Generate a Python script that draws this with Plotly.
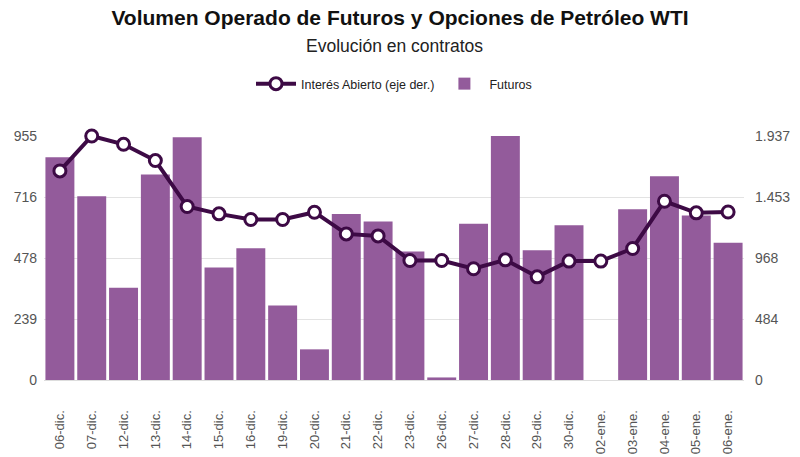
import plotly.graph_objects as go

categorias = ["06-dic.", "07-dic.", "12-dic.", "13-dic.", "14-dic.", "15-dic.", "16-dic.",
              "19-dic.", "20-dic.", "21-dic.", "22-dic.", "23-dic.", "26-dic.", "27-dic.",
              "28-dic.", "29-dic.", "30-dic.", "02-ene.", "03-ene.", "04-ene.", "05-ene.", "06-ene."]
futuros = [872, 719, 361, 804, 950, 440, 516, 292, 120, 650, 620, 503, 10, 612,
           955, 508, 606, 0, 668, 797, 644, 537]
interes_abierto = [1660, 1937, 1871, 1742, 1377, 1319, 1274, 1274, 1332, 1160, 1144, 949,
                   949, 883, 954, 819, 944, 944, 1044, 1419, 1327, 1334]

def fmt(v):
    return f"{int(round(v)):,}".replace(",", ".")

max_l = max(futuros)
max_r = max(interes_abierto)
ticks_l = [max_l * i / 4 for i in range(5)]
ticks_r = [max_r * i / 4 for i in range(5)]

FONT = "Liberation Sans, Arial, sans-serif"
BAR = "#935B9B"
LINE = "#3D0A45"
W, H = 800, 457
T, B = 136, H - 380
L, R = 44, W - 744
PLOT_H = H - T - B

def py(px):
    """pixel row -> paper y"""
    return (H - B - px) / PLOT_H

fig = go.Figure()
fig.add_trace(go.Scatter(
    x=categorias, y=interes_abierto, name="Interés Abierto (eje der.)",
    yaxis="y2", mode="lines+markers",
    line=dict(color=LINE, width=4),
    marker=dict(color="white", size=12, line=dict(color=LINE, width=3)),
    cliponaxis=False,
))
fig.add_trace(go.Bar(
    x=categorias, y=futuros, name="Futuros",
    marker=dict(color=BAR, line=dict(width=0)),
))

fig.update_layout(
    width=W, height=H,
    margin=dict(l=L, r=R, t=T, b=B, autoexpand=False),
    paper_bgcolor="white", plot_bgcolor="white",
    font=dict(family=FONT, color="#555555", size=13),
    bargap=0.09,
    title=dict(text="<b>Volumen Operado de Futuros y Opciones de Petróleo WTI</b>",
               x=0.5, xanchor="center", y=1 - 18 / H, yanchor="middle",
               font=dict(size=21, color="#111111", family=FONT)),
    annotations=[dict(text="Evolución en contratos", x=0.5, xref="paper",
                      y=py(46), yref="paper", yanchor="middle",
                      showarrow=False, font=dict(size=17.5, color="#222222", family=FONT))],
    legend=dict(orientation="h", x=0.5, xanchor="center", y=py(84),
                yanchor="middle",
                font=dict(size=12.5, color="#222222", family=FONT),
                itemwidth=40, traceorder="normal"),
    xaxis=dict(type="category", tickangle=-90, showgrid=False, automargin=False,
               range=[-0.5, len(categorias) - 0.5],
               showline=True, linecolor="#dddddd", linewidth=1,
               ticks="outside", ticklen=24, tickcolor="rgba(0,0,0,0)",
               tickfont=dict(size=13, color="#555555")),
    yaxis=dict(range=[0, max_l], tickvals=ticks_l, ticktext=[fmt(v) for v in ticks_l],
               showgrid=True, gridcolor="#e3e3e3", gridwidth=1, zeroline=False,
               automargin=False, ticklabelstandoff=6,
               tickfont=dict(size=14, color="#555555"), ticks=""),
    yaxis2=dict(range=[0, max_r], tickvals=ticks_r, ticktext=[fmt(v) for v in ticks_r],
                overlaying="y", side="right", showgrid=False, zeroline=False,
                automargin=False, ticklabelstandoff=10,
                tickfont=dict(size=14, color="#555555"), ticks=""),
    showlegend=True,
)

fig.write_html("out.html", config={"displayModeBar": False},
               post_script="document.body.style.margin='0';")
